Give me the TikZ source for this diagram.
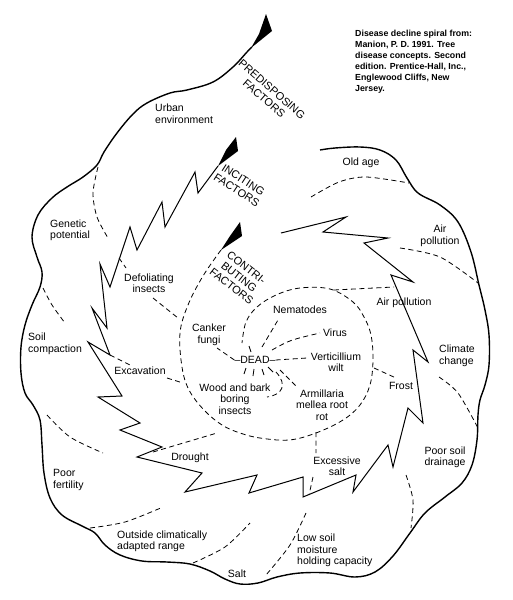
\documentclass[tikz,border=0pt]{standalone}
\usepackage{fontspec}
\setmainfont{Liberation Sans}
\begin{document}
\begin{tikzpicture}[x=1pt,y=-1pt,
  lbl/.style={font=\fontsize{10.5}{11.5}\selectfont, align=left, inner sep=0pt},
  clbl/.style={lbl, align=center},
  factorlbl/.style={font=\fontsize{11}{12}\selectfont, align=center, inner sep=0pt},
  sep/.style={dash pattern=on 5pt off 3.5pt, line width=0.8pt},
  bolt/.style={line width=1pt, line join=miter},
  rim/.style={line width=1.4pt}]
	\useasboundingbox (0,0) rectangle (512,600);

	% predisposing factors (outer spiral)
	\fill (266,14) -- (272,31) -- (251,48) -- (259,34) -- cycle;
	\draw[rim] plot[smooth, tension=0.6] coordinates {(252,47) (247,52) (233,67)
		(213,82) (187,90) (170,93) (147,103) (133,114) (117,133) (104,152) (97,165)
		(83,177) (67,187) (52,198) (38,215) (32,237) (37,257) (42,272) (40,287)
		(32,305) (25,325) (21,347) (21,373) (25,393) (33,405) (40,420) (42,445)
		(44,473) (50,498) (62,515) (82,526) (95,533) (105,545) (120,555) (142,561)
		(167,562) (190,564) (210,571) (225,579) (240,584) (258,583) (277,577)
		(300,573) (330,573) (355,577) (375,572) (393,556) (410,533) (425,513)
		(445,497) (462,483) (472,465) (477,440) (478,415) (480,400) (485,385)
		(489,365) (489,335) (485,310) (479,285) (471,252) (458,222) (440,205)
		(418,193) (407,178) (396,160) (380,150) (360,147) (335,148) (320,150)};
	\node[factorlbl, rotate=-41] (predis) at (268,94) {PREDISPOSING\\FACTORS};

	% inciting factors (lightning spiral)
	\fill (236,137) -- (238,151) -- (218,166) -- (226,150) -- cycle;
	\draw[bolt] (218,166) -- (198,193) -- (195,172) -- (165,227) -- (162,202)
		-- (137,250) -- (130,227) -- (110,287) -- (100,264) -- (107,328)
		-- (92,308) -- (110,355) -- (88,342) -- (122,396) -- (98,397)
		-- (140,423) -- (120,430)
		-- (162,447) -- (137,457) -- (202,473) -- (185,492) -- (257,475)
		-- (249,493) -- (303,477) -- (303,497) -- (356,475) -- (353,492)
		-- (388,445) -- (393,467) -- (408,408) -- (423,423) -- (413,350)
		-- (428,362) -- (391,275) -- (413,282) -- (364,243) -- (388,238)
		-- (323,232) -- (346,217) -- (281,233);
	\node[factorlbl, rotate=-33] (incit) at (240,185) {INCITING\\FACTORS};

	% contributing factors (dashed spiral)
	\fill (240,222) -- (242,236) -- (221,250) -- (230,236) -- cycle;
	\draw[sep] plot[smooth, tension=0.6] coordinates {(221,250) (203,276) (188,305)
		(180,333) (182,367) (189,390) (204,410) (222,425) (240,433) (260,438)
		(289,440) (316,433) (343,420) (360,405) (370,385) (373,360) (371,335)
		(364,317) (353,302) (330,289) (300,288) (276,295) (257,307) (246,322)
		(242,343)};
	\node[factorlbl, rotate=-38] (contrib) at (239,277) {CONTRI-\\BUTING\\FACTORS};

	% outer band
	\node[lbl, anchor=west] (urban) at (155,113.5) {Urban\\environment};
	\node[lbl, anchor=west] (genet) at (50,230.5) {Genetic\\potential};
	\node[lbl, anchor=west] (soilc) at (28,344) {Soil\\compaction};
	\node[lbl, anchor=west] (fert) at (53,480) {Poor\\fertility};
	\node[lbl, anchor=west] (range) at (117,541.5) {Outside climatically\\adapted range};
	\node[lbl] (salt) at (237,574) {Salt};
	\node[lbl, anchor=west] (moist) at (297,550.5) {Low soil\\moisture\\holding capacity};
	\node[clbl] (drain) at (445,457.5) {Poor soil\\drainage};
	\node[lbl, anchor=west] (climate) at (439,356) {Climate\\change};
	\node[clbl] (airout) at (440,236) {Air\\pollution};
	\node[lbl] (oldage) at (361,163) {Old age};

	\draw[sep] plot[smooth] coordinates {(98,167) (93,193) (97,217) (108,238)};
	\draw[sep] plot[smooth] coordinates {(43,288) (52,305) (65,323)};
	\draw[sep] plot[smooth] coordinates {(47,415) (70,437) (103,453)};
	\draw[sep] plot[smooth] coordinates {(90,528) (125,522) (163,507)};
	\draw[sep] plot[smooth] coordinates {(193,563) (225,547) (250,523)};
	\draw[sep] plot[smooth] coordinates {(306,513) (290,545) (266,575)};
	\draw[sep] plot[smooth] coordinates {(406,475) (413,500) (411,528)};
	\draw[sep] plot[smooth] coordinates {(439,377) (458,393) (478,428)};
	\draw[sep] plot[smooth] coordinates {(400,248) (440,257) (478,283)};
	\draw[sep] plot[smooth] coordinates {(311,197) (339,182) (366,177) (409,183)};

	% inner band
	\node[clbl] (defol) at (149,283) {Defoliating\\insects};
	\node[clbl] (excav) at (140,371) {Excavation};
	\node[clbl] (drought) at (190,458) {Drought};
	\node[clbl] (exsalt) at (337,466) {Excessive\\salt};
	\node[clbl] (frost) at (401,386) {Frost};
	\node[clbl] (airin) at (404,303) {Air pollution};

	\draw[sep] (119,258) -- (126,268);
	\draw[sep] (153,298) -- (178,318);
	\draw[sep] (110,355) -- (130,365);
	\draw[sep] (167,378) -- (183,383);
	\draw[sep] (153,452) -- (217,433);
	\draw[sep] (316,432) -- (316,453) (313,477) -- (309,495);
	\draw[sep] (374,368) -- (396,378);
	\draw[sep] (334,290) -- (394,287);

	% centre
	\node[clbl] (dead) at (255,360) {--DEAD--};
	\node[clbl] (canker) at (209,335) {Canker\\fungi};
	\node[clbl] (nemat) at (300,310) {Nematodes};
	\node[clbl] (virus) at (335,333) {Virus};
	\node[clbl] (verti) at (336,362) {Verticillium\\wilt};
	\node[clbl] (armil) at (322,405) {Armillaria\\mellea root\\rot};
	\node[clbl] (wood) at (235,399) {Wood and bark\\boring\\insects};

	\draw[sep] (dead.west) -- (217,348);
	\draw[sep] (262,347) -- (278,320);
	\draw[sep] (272,350) .. controls (290,340) .. (320,333);
	\draw[sep] (dead.east) -- (307,358);
	\draw[sep] (280,370) -- (298,388);
	\draw[sep] (276,372) .. controls (288,385) and (282,395) .. (267,397);
	\draw[line width=0.8pt] (249,346) -- (251,352) (246,368) -- (244,374)
		(254,369) -- (253,376) (262,369) -- (264,375) (268,367) -- (273,372);

	% source note
	\node[anchor=west, align=left, inner sep=0pt,
		font=\fontsize{8.8}{11}\selectfont\bfseries] (note) at (355,61.5)
		{Disease decline spiral from:\\Manion, P. D. 1991. Tree\\disease concepts. Second\\edition. Prentice-Hall, Inc.,\\Englewood Cliffs, New\\Jersey.};
\end{tikzpicture}
\end{document}
